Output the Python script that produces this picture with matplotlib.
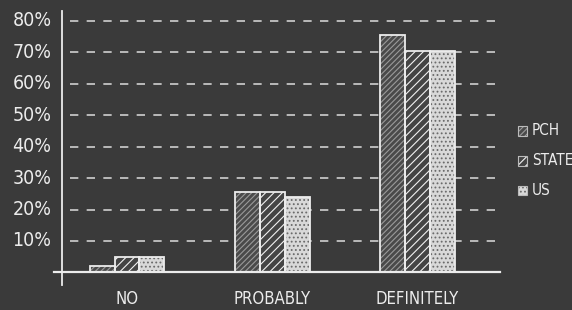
import matplotlib
matplotlib.use("Agg")
import matplotlib.pyplot as plt
from matplotlib import font_manager
import numpy as np

categories = ["No", "Probably", "Definitely"]
series = ["PCH", "State", "US"]
pch = [2, 25.5, 75.5]
state = [5, 25.5, 70.5]
us = [5, 24, 70.5]
yticks = [10, 20, 30, 40, 50, 60, 70, 80]

names = set(f.name for f in font_manager.fontManager.ttflist)
font = "Liberation Sans Narrow" if "Liberation Sans Narrow" in names else "DejaVu Sans"
plt.rcParams["font.family"] = [font, "DejaVu Sans"]
plt.rcParams["hatch.linewidth"] = 0.8

bg = "#3a3a3a"
chalk = "#ececec"

fig = plt.figure(figsize=(5.72, 3.10), dpi=100, facecolor=bg)
ax = fig.add_axes([62 / 572, 25 / 310, 438 / 572, 283 / 310])
ax.set_facecolor(bg)

x = np.arange(len(categories))
w = 0.172
styles = [
    # face, hatch, hatch colour
    ("#4a4a4a", "//////", "#9a9a9a"),
    ("#444444", "////", "#f0f0f0"),
    ("#d8d8d8", "....", "#6a6a6a"),
]
for i, (vals, (fc, h, hc)) in enumerate(zip([pch, state, us], styles)):
    pos = x + (i - 1) * w
    ax.bar(pos, vals, w, color=fc, hatch=h, edgecolor=hc, linewidth=0, zorder=3)
    ax.bar(pos, vals, w, fill=False, edgecolor=chalk, linewidth=1.3, zorder=4)

xl = (-0.448, 2.57)
ax.set_xlim(*xl)
ax.set_ylim(-4, 86)

for t in yticks:
    ax.plot([-0.39, 2.57], [t, t], color="#d0d0d0", lw=1.2,
            dashes=(5, 5), zorder=1)

# chalk axes
ax.plot([xl[0], xl[0]], [-4, 83], color=chalk, lw=1.3, zorder=5, clip_on=False)
ax.plot([-0.5, 2.57], [0, 0], color=chalk, lw=1.6, zorder=5, clip_on=False)

for s in ax.spines.values():
    s.set_visible(False)
ax.set_xticks([])
ax.set_yticks([])

for t in yticks:
    ax.text(-0.52, t, f"{t}%", ha="right", va="center", color=chalk,
            fontsize=14, fontstretch="condensed")
for xi, c in zip(x, categories):
    ax.text(xi, -5.5, c.upper(), ha="center", va="top", color=chalk,
            fontsize=12, fontstretch="condensed")

# legend
for j, (s, (fc, h, hc)) in enumerate(zip(series, styles)):
    yy = 45 - j * 9.5
    ax.bar(2.724, 3.0, 0.06, bottom=yy - 1.5, color=fc, hatch=h, edgecolor=hc,
           linewidth=0, clip_on=False, zorder=3)
    ax.bar(2.724, 3.0, 0.06, bottom=yy - 1.5, fill=False, edgecolor="#bbbbbb",
           linewidth=0.8, clip_on=False, zorder=4)
    ax.text(2.79, yy, s.upper(), ha="left", va="center", color=chalk,
            fontsize=11, fontstretch="condensed", clip_on=False)

fig.savefig("out.png", dpi=100, facecolor=bg)
